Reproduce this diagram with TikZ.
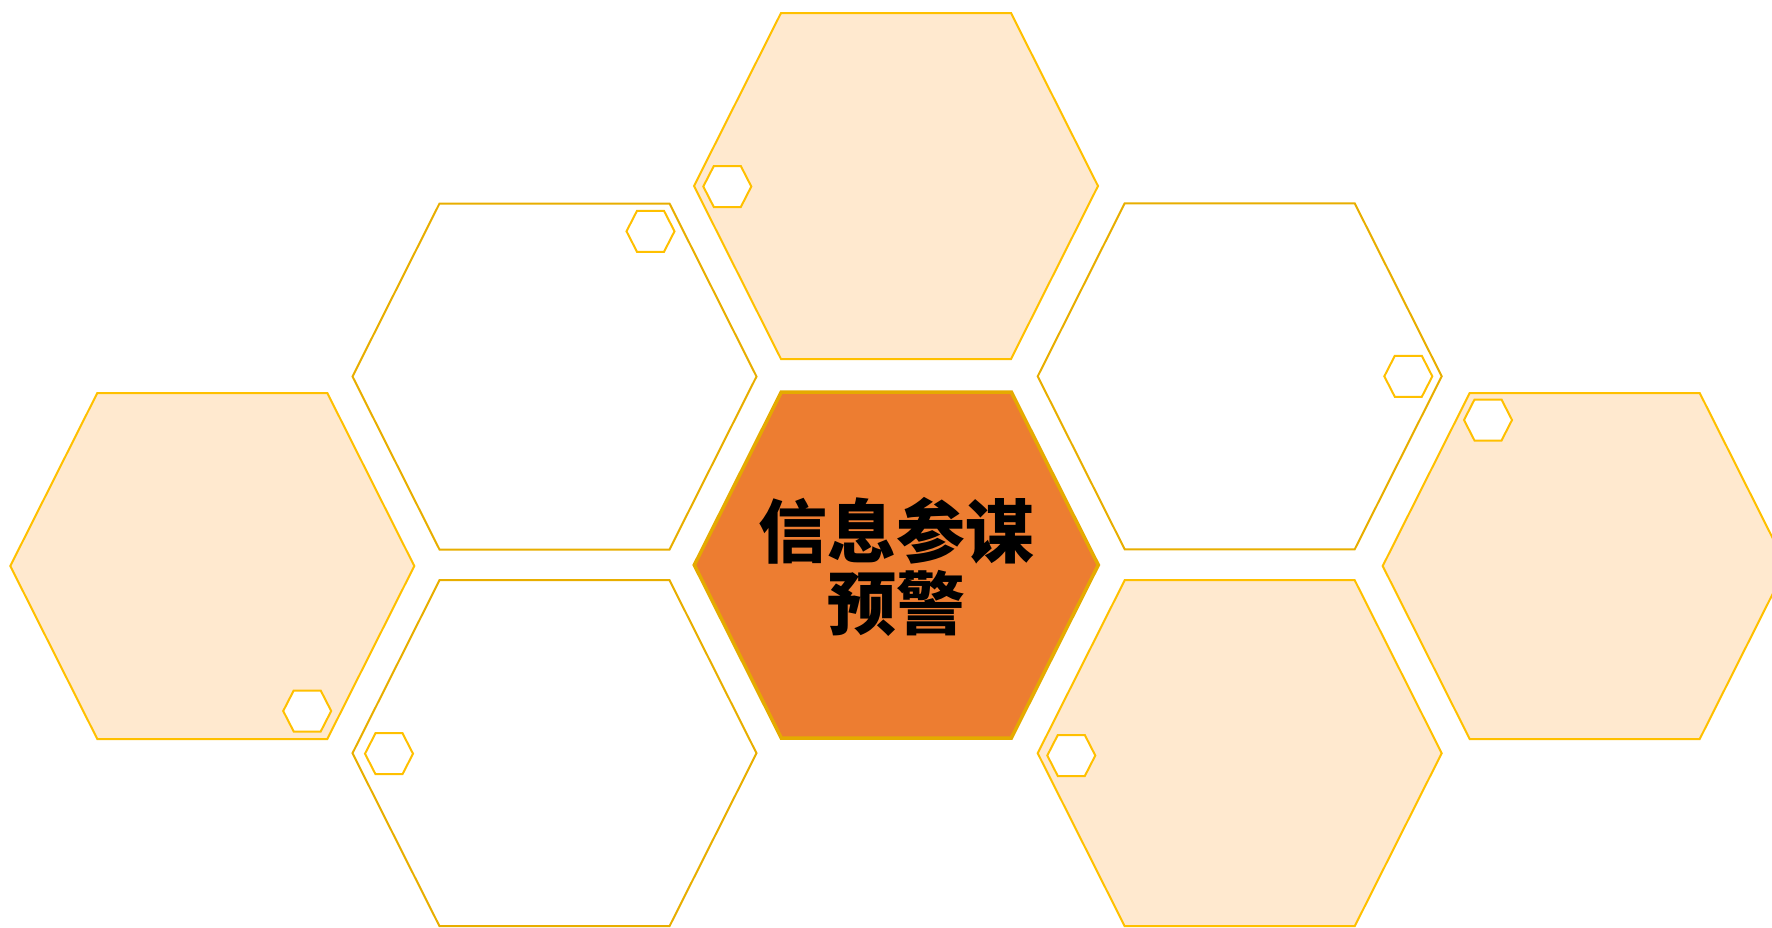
\documentclass[tikz,border=0pt]{standalone}
\usepackage{fontspec}
\newfontfamily\cjk{Noto Sans CJK SC}
\definecolor{peach}{HTML}{FFE9CF}
\definecolor{gold}{HTML}{FFC000}
\definecolor{darkgold}{HTML}{E8AE00}
\definecolor{centergold}{HTML}{E5AA00}
\definecolor{orangefill}{HTML}{ED7D31}
\tikzset{
  peachhex/.style={draw=gold, fill=peach, line width=2pt, line join=miter},
  whitehex/.style={draw=darkgold, fill=white, line width=2pt, line join=miter},
  smallhex/.style={draw=gold, fill=white, line width=2pt, line join=miter},
  centerhex/.style={draw=centergold, fill=orangefill, line width=3.5pt, line join=miter},
  titletext/.style={font=\cjk\bfseries\fontsize{69}{72}\selectfont, align=center, text=black, inner sep=0pt}
}
% #1 cx, #2 cy, #3 half width, #4 top half width, #5 half height, #6 style
\newcommand{\hexshape}[6]{%
  \draw[#6] ({#1-#3},{#2}) -- ({#1-#4},{#2-#5}) -- ({#1+#4},{#2-#5}) --
    ({#1+#3},{#2}) -- ({#1+#4},{#2+#5}) -- ({#1-#4},{#2+#5}) -- cycle;}
\newcommand{\bighex}[3]{\hexshape{#1}{#2}{202}{115}{173}{#3}}
\newcommand{\tinyhex}[2]{\hexshape{#1}{#2}{24}{13.5}{20.5}{smallhex}}
\begin{document}
\begin{tikzpicture}[x=1pt,y=-1pt]
\useasboundingbox (0,0) rectangle (1772,927);
\clip (0,0) rectangle (1772,927);
% large hexagons
\bighex{896}{186}{peachhex}
\bighex{212.3}{566}{peachhex}
\bighex{1584.7}{566}{peachhex}
\bighex{1239.7}{753.2}{peachhex}
\bighex{554.5}{376.5}{whitehex}
\bighex{554.5}{753.2}{whitehex}
\bighex{1239.7}{376.3}{whitehex}
\bighex{896.3}{565}{centerhex}
% small hexagons
\tinyhex{727.3}{186.5}
\tinyhex{307.2}{711}
\tinyhex{1488}{420}
\tinyhex{650.5}{231.3}
\tinyhex{389}{753.7}
\tinyhex{1408.3}{376.3}
\tinyhex{1071.3}{755.5}
% title
\node[titletext] (title) at (896.3,567) {信息参谋\\预警};
\end{tikzpicture}
\end{document}
